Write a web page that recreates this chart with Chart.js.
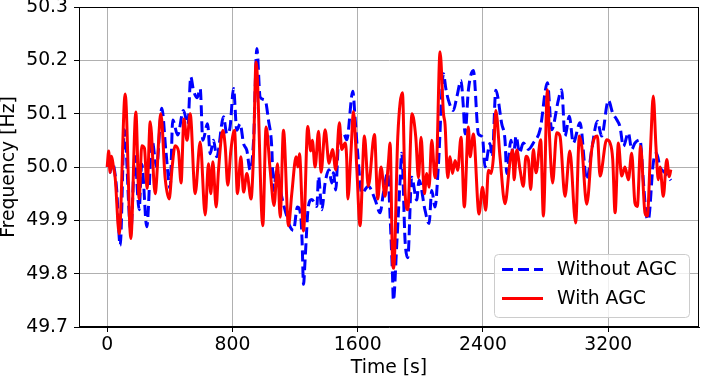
<!DOCTYPE html>
<html>
<head>
<meta charset="utf-8">
<script src="https://cdn.jsdelivr.net/npm/chart.js@4.4.1/dist/chart.umd.min.js"></script>
<style>
html, body { margin: 0; padding: 0; background: #fff; }
</style>
</head>
<body>
<canvas id="freqChart" width="704" height="379"></canvas>
<script>
var seriesNames = ["Without AGC", "With AGC"];
var xTicks = [0, 800, 1600, 2400, 3200];
var yTicks = [49.7, 49.8, 49.9, 50.0, 50.1, 50.2, 50.3];

// without AGC (blue dashed)
var blueTime = [
	0, 10, 20, 30, 40, 60, 83, 110, 151, 177,
	204, 221, 253, 287, 315, 349, 375, 402, 419, 450,
	487, 515, 534, 551, 575, 594, 611, 641, 658, 679,
	700, 743, 764, 785, 807, 828, 849, 871, 892, 913,
	935, 956, 977, 1009, 1030, 1051, 1062, 1083, 1115, 1143,
	1168, 1190, 1215, 1237, 1245, 1254, 1264, 1285, 1307, 1339,
	1350, 1371, 1392, 1417, 1434, 1445, 1460, 1477, 1509, 1530,
	1569, 1584, 1600, 1626, 1668, 1711, 1743, 1764, 1792, 1807,
	1822, 1828, 1849, 1871, 1881, 1903, 1920, 1945, 1977, 1992,
	2030, 2056, 2073, 2094, 2116, 2148, 2163, 2180, 2211, 2233,
	2260, 2275, 2286, 2307, 2339, 2371, 2397, 2413, 2445, 2460,
	2482, 2520, 2541, 2552, 2579, 2594, 2612, 2633, 2658, 2690,
	2722, 2765, 2812, 2839, 2882, 2903, 2924, 2952, 2977, 3020,
	3063, 3095, 3131, 3158, 3201, 3229, 3254, 3275, 3297, 3329,
	3350, 3371, 3403, 3424, 3441, 3456, 3488, 3509, 3531, 3563,
	3600
];
var blueFreq = [
	50.0, 50.01, 49.99, 50.01, 50.005, 49.96, 49.853, 50.07, 49.88, 50.02,
	49.92, 50.005, 49.888, 50.05, 50.0, 50.11, 50.03, 49.96, 50.088, 50.06,
	50.106, 50.08, 50.169, 50.144, 50.13, 50.147, 50.05, 50.081, 50.025, 50.05,
	50.019, 50.094, 50.062, 50.075, 50.147, 50.069, 50.081, 50.044, 50.031, 49.994,
	50.05, 50.222, 50.131, 50.125, 50.088, 50.038, 49.956, 49.994, 49.944, 49.912,
	49.888, 49.881, 49.925, 49.906, 49.86, 49.78, 49.826, 49.926, 49.939, 49.926,
	49.982, 49.92, 49.97, 49.995, 49.97, 49.989, 49.957, 50.045, 50.064, 50.051,
	50.142, 50.089, 50.026, 49.951, 49.964, 49.939, 49.914, 49.951, 49.989, 49.907,
	49.80, 49.75, 49.852, 49.976, 50.026, 49.86, 49.83, 49.981, 49.938, 49.975,
	49.919, 49.894, 49.956, 49.925, 50.006, 50.175, 50.147, 50.125, 50.106, 50.131,
	50.162, 50.112, 50.062, 50.144, 50.181, 50.062, 50.056, 50.0, 50.044, 50.019,
	50.144, 50.081, 50.05, 49.988, 50.05, 50.02, 50.058, 50.026, 50.045, 50.033,
	50.045, 50.07, 50.158, 50.07, 50.126, 50.145, 50.058, 50.095, 50.045, 50.083,
	49.976, 50.033, 50.086, 50.058, 50.125, 50.101, 50.089, 50.076, 50.039, 50.064,
	50.033, 50.045, 50.051, 49.976, 49.914, 49.901, 50.008, 50.026, 50.0, 49.989,
	49.975
];

// with AGC (red solid)
var redTime = [
	0, 10, 18, 28, 40, 51, 77, 115, 151, 183,
	204, 221, 238, 255, 275, 306, 343, 370, 396, 415,
	434, 455, 472, 490, 510, 530, 562, 594, 626, 647,
	662, 675, 696, 711, 739, 754, 770, 790, 813, 832,
	854, 871, 892, 919, 934, 951, 994, 1015, 1041, 1066,
	1088, 1105, 1126, 1158, 1179, 1207, 1218, 1228, 1254, 1281,
	1300, 1310, 1328, 1350, 1366, 1392, 1417, 1439, 1460, 1483,
	1498, 1520, 1530, 1537, 1558, 1573, 1594, 1615, 1643, 1668,
	1707, 1728, 1749, 1775, 1796, 1807, 1822, 1830, 1856, 1886,
	1903, 1920, 1947, 1971, 1988, 2005, 2026, 2041, 2056, 2073,
	2094, 2105, 2126, 2148, 2158, 2175, 2190, 2205, 2222, 2239,
	2260, 2281, 2307, 2318, 2339, 2375, 2397, 2418, 2435, 2452,
	2467, 2482, 2509, 2541, 2573, 2590, 2599, 2616, 2637, 2658,
	2675, 2690, 2705, 2722, 2739, 2769, 2786, 2812, 2824, 2845,
	2871, 2892, 2924, 2955, 2992, 3016, 3031, 3063, 3073, 3095,
	3131, 3148, 3190, 3212, 3229, 3244, 3265, 3286, 3307, 3329,
	3350, 3371, 3386, 3407, 3435, 3450, 3471, 3488, 3505, 3520,
	3531, 3552, 3574, 3590, 3600
];
var redFreq = [
	50.0, 50.03, 49.99, 50.02, 50.0, 49.98, 49.875, 50.137, 49.866, 50.103,
	49.94, 50.04, 50.035, 49.96, 50.085, 49.95, 50.10, 49.98, 49.94, 50.0,
	50.04, 50.03, 49.97, 50.09, 50.05, 50.10, 49.95, 50.047, 49.91, 50.006,
	49.95, 50.01, 49.925, 49.994, 50.069, 50.038, 49.966, 50.031, 50.069, 49.95,
	50.019, 49.953, 49.988, 49.94, 50.019, 50.197, 49.89, 50.075, 49.994, 49.928,
	50.006, 49.906, 50.069, 49.89, 49.95, 50.019, 50.0, 50.025, 49.88, 50.076,
	50.03, 50.05, 50.0, 50.067, 49.99, 50.07, 50.007, 50.033, 49.995, 50.083,
	50.033, 50.045, 50.014, 49.94, 50.033, 50.104, 50.0, 49.89, 50.058, 49.964,
	50.061, 49.94, 50.0, 49.945, 50.008, 50.045, 49.83, 49.81, 50.056, 50.139,
	49.95, 49.92, 50.1, 50.056, 49.98, 50.056, 49.95, 49.988, 49.962, 50.05,
	49.98, 50.012, 50.216, 50.1, 50.08, 49.98, 50.019, 49.988, 50.012, 49.994,
	50.056, 49.925, 50.075, 50.019, 50.062, 49.912, 49.962, 49.919, 49.994, 49.988,
	50.019, 50.106, 50.019, 49.931, 50.01, 50.032, 49.976, 50.032, 49.995, 49.964,
	50.02, 50.014, 49.958, 50.033, 49.989, 50.051, 49.908, 50.145, 50.064, 49.97,
	50.064, 50.058, 49.945, 50.03, 49.895, 50.058, 50.039, 49.93, 49.948, 50.033,
	50.058, 49.983, 50.051, 50.045, 50.014, 49.914, 50.045, 49.983, 50.0, 49.976,
	50.026, 49.932, 49.926, 50.039, 49.914, 49.908, 50.039, 50.133, 50.039, 49.976,
	50.0, 49.945, 50.014, 49.982, 49.995
];

function toPoints(t, f)
{
	var p = [];
	for (var i = 0; i < t.length; i++) {
		p.push({x: t[i], y: f[i]});
	}
	return p;
}

var fontFam = "'DejaVu Sans', sans-serif";
var fontSize = 18.8;

// box round the plot, like matplotlib spines
var framePlugin = {
	id: "frame",
	afterDatasetsDraw: function(chart) {
		var a = chart.chartArea;
		var ctx = chart.ctx;
		ctx.save();
		ctx.strokeStyle = "#000";
		ctx.lineWidth = 1;
		ctx.strokeRect(Math.round(a.left) + 0.5, Math.round(a.top) + 0.5, Math.round(a.right - a.left) - 1, Math.round(a.bottom - a.top) - 1);
		ctx.restore();
	}
};

// legend inside the plot, lower right
var legendPlugin = {
	id: "innerLegend",
	afterDraw: function(chart) {
		var a = chart.chartArea;
		var ctx = chart.ctx;
		var w = 195, h = 63;
		var bx = a.right - 10 - w;
		var by = a.bottom - 10 - h;
		ctx.save();
		ctx.beginPath();
		ctx.roundRect(bx + 0.5, by + 0.5, w, h, 4);
		ctx.fillStyle = "rgba(255,255,255,0.8)";
		ctx.fill();
		ctx.strokeStyle = "#cccccc";
		ctx.lineWidth = 1;
		ctx.stroke();
		var ds = chart.data.datasets;
		var order = [1, 0];
		for (var k = 0; k < 2; k++) {
			var d = ds[order[k]];
			var ly = by + 15.5 + k * 29;
			ctx.beginPath();
			ctx.setLineDash(d.borderDash || []);
			ctx.strokeStyle = d.borderColor;
			ctx.lineWidth = d.borderWidth;
			ctx.moveTo(bx + 8, ly);
			ctx.lineTo(bx + 49, ly);
			ctx.stroke();
			ctx.setLineDash([]);
			ctx.fillStyle = "#000";
			ctx.font = fontSize + "px " + fontFam;
			ctx.textBaseline = "middle";
			ctx.textAlign = "left";
			ctx.fillText(d.label, bx + 63, ly + 1);
		}
		ctx.restore();
	}
};

var tickFont = {family: fontFam, size: fontSize};

new Chart("freqChart", {
	type: "line",
	data: {
		datasets: [{
			label: seriesNames[1],
			data: toPoints(redTime, redFreq),
			borderColor: "#ff0000",
			borderWidth: 3,
			pointRadius: 0,
			fill: false,
			cubicInterpolationMode: "monotone",
			order: 0
		}, {
			label: seriesNames[0],
			data: toPoints(blueTime, blueFreq),
			borderColor: "#0000ff",
			borderWidth: 3,
			borderDash: [11, 5],
			pointRadius: 0,
			fill: false,
			cubicInterpolationMode: "monotone",
			order: 1
		}]
	},
	options: {
		responsive: false,
		animation: false,
		events: [],
		devicePixelRatio: 1,
		layout: {padding: {top: 7, right: 5, left: 0, bottom: 0}},
		plugins: {
			legend: {display: false},
			tooltip: {enabled: false}
		},
		scales: {
			x: {
				type: "linear",
				min: -180,
				max: 3780,
				afterBuildTicks: function(s) { s.ticks = xTicks.map(function(v) { return {value: v}; }); },
				afterFit: function(s) { s.height = 52; s.paddingLeft = 0; s.paddingRight = 0; },
				ticks: {font: tickFont, color: "#000", padding: 2, maxRotation: 0, autoSkip: false, callback: function(v) { return String(v); }},
				grid: {color: "#b0b0b0", lineWidth: 1, tickLength: 5, tickColor: "#000"},
				border: {color: "#000", width: 1},
				title: {display: true, text: "Time [s]", color: "#000", font: tickFont, padding: {top: 0, bottom: 0}}
			},
			y: {
				min: 49.7,
				max: 50.3,
				afterBuildTicks: function(s) { s.ticks = yTicks.map(function(v) { return {value: v}; }); },
				afterFit: function(s) { s.width = 79; s.paddingTop = 0; s.paddingBottom = 0; },
				ticks: {font: tickFont, color: "#000", padding: 6, autoSkip: false, callback: function(v) { return v.toFixed(1); }},
				grid: {color: "#b0b0b0", lineWidth: 1, tickLength: 5, tickColor: "#000"},
				border: {color: "#000", width: 1},
				title: {display: true, text: "Frequency [Hz]", color: "#000", font: {family: fontFam, size: fontSize, lineHeight: 1}, padding: {top: 0, bottom: 0}}
			}
		}
	},
	plugins: [framePlugin, legendPlugin]
});
</script>
</body>
</html>
